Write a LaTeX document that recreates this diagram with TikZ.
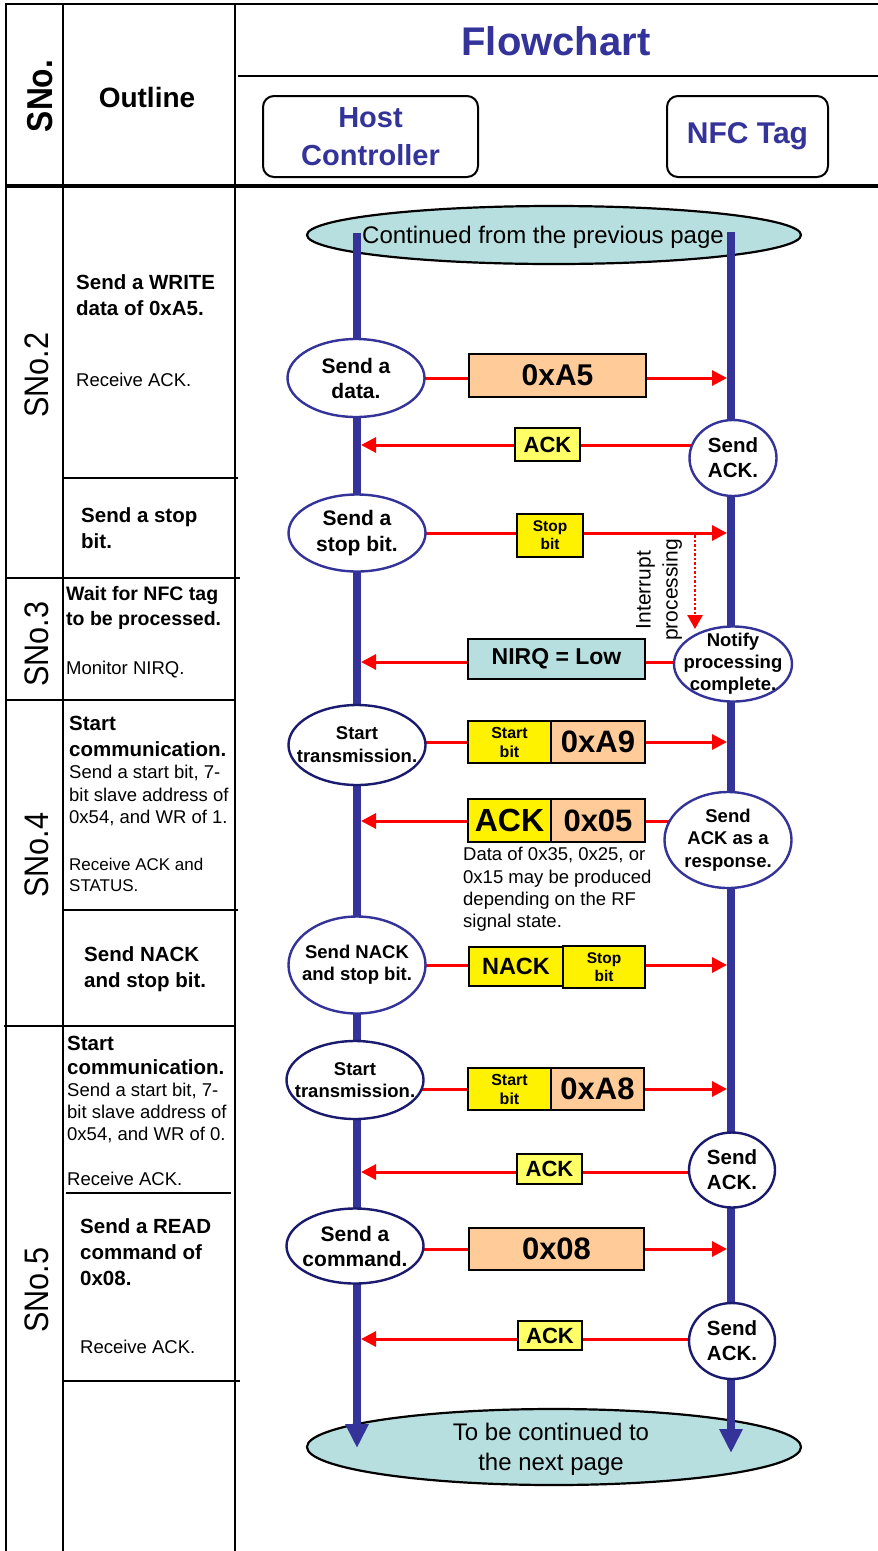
\documentclass[tikz,border=0pt]{standalone}
\usepackage{fontspec}
\setmainfont{Liberation Sans}
\usetikzlibrary{shapes.geometric,arrows.meta}
\definecolor{lifeblue}{HTML}{333399}
\definecolor{navyedge}{HTML}{1A1A6E}
\definecolor{peach}{HTML}{FFCC99}
\definecolor{paleyellow}{HTML}{FFFF66}
\definecolor{cyanfill}{HTML}{B8DFE0}
\newcommand\fsz[2]{\fontsize{#1}{#2}\selectfont}
\pgfdeclarelayer{bottom}
\pgfdeclarelayer{back}
\pgfsetlayers{bottom,back,main}

\begin{document}
\begin{tikzpicture}[x=1pt,y=-1pt,
  grid/.style={line width=2.8pt, black},
  % negative inner sep keeps the ellipse at its given size whatever the text
  ell/.style={ellipse, draw=lifeblue, line width=2.4pt, fill=white, inner sep=-22pt, align=center},
  navyell/.style={ell, draw=navyedge},
  bigtxt/.style={font={\fsz{21}{25}\bfseries}},
  smalltxt/.style={font={\fsz{18.5}{22.5}\bfseries}},
  pkt/.style={draw=black, line width=2pt, inner sep=0pt, align=center},
  pktpeach/.style={pkt, fill=peach, font={\fsz{31}{36}\bfseries}},
  pktack/.style={pkt, fill=paleyellow, font={\fsz{22}{26}\bfseries}},
  pktbit/.style={pkt, fill=yellow, font={\fsz{15.5}{18}\bfseries}},
  msg/.style={draw=red, line width=3pt, -{Triangle[length=15pt,width=15pt]}},
  life/.style={draw=lifeblue, line width=7.5pt, -{Triangle[length=24pt,width=22pt]}},
  cont/.style={ellipse, draw=black, line width=2.2pt, fill=cyanfill, inner sep=0pt},
  outl/.style={anchor=west, inner sep=0pt, align=left},
  outb/.style={outl, font={\fsz{20.5}{26}\bfseries}},
  outr/.style={outl, font={\fsz{18.5}{22.5}}},
  sno/.style={rotate=90, inner sep=0pt, font={\fsz{34}{40}}}
]
\useasboundingbox (0,0) rectangle (878,1551);
\begin{pgfonlayer}{bottom}
\fill[white] (0,0) rectangle (878,1551);
\end{pgfonlayer}

% ---- table frame ----
\draw[grid] (5,4) -- (878,4);
\draw[grid] (6,4) -- (6,1551);
\draw[grid] (63,4) -- (63,1551);
\draw[grid] (235,4) -- (235,1551);
\draw[grid] (238,76) -- (878,76);
\draw[grid, line width=3.4pt] (5,186) -- (878,186);
\draw[grid] (6,578) -- (240,578);
\draw[grid] (6,700) -- (235,700);
\draw[grid] (4,1026) -- (235,1026);
\draw[grid] (63,478) -- (238,478);
\draw[grid] (63,910) -- (238,910);
\draw[grid] (66,1193) -- (231,1193);
\draw[grid] (63,1381) -- (240,1381);

% ---- header ----
\node[font={\fsz{40}{48}\bfseries}, text=lifeblue] (title) at (556,41) {Flowchart};
\node[font={\fsz{28}{34}\bfseries}] (outline) at (147,97) {Outline};
\node[sno, font={\fsz{36}{40}\bfseries}] (snohead) at (40,96) {\scalebox{0.88}[1]{SNo.}};
\node[draw, rounded corners=11pt, line width=2pt, minimum width=215, minimum height=81,
      inner sep=0pt, align=center, text=lifeblue, font={\fsz{29}{38}\bfseries}] (host) at (370.5,136.5) {Host\\Controller};
\node[draw, rounded corners=11pt, line width=2pt, minimum width=161, minimum height=81,
      inner sep=0pt, text=lifeblue, font={\fsz{30}{36}\bfseries}] (tag) at (747.5,136.5) {NFC Tag};

% ---- section numbers ----
\node[sno] (sno2) at (37,375) {\scalebox{0.9}[1]{SNo.2}};
\node[sno] (sno3) at (37,644) {\scalebox{0.9}[1]{SNo.3}};
\node[sno] (sno4) at (37,855) {\scalebox{0.9}[1]{SNo.4}};
\node[sno] (sno5) at (37,1290) {\scalebox{0.9}[1]{SNo.5}};

% ---- outline texts ----
\node[outb] (t2a) at (76,295) {Send a WRITE\\data of 0xA5.};
\node[outr] (t2b) at (76,380) {Receive ACK.};
\node[outb] (t2c) at (81,528) {Send a stop\\bit.};
\node[outb, font={\fsz{19.5}{25}\bfseries}] (t3a) at (66,607.5) {Wait for NFC tag\\to be processed.};
\node[outr] (t3b) at (66,670) {Monitor NIRQ.};
\node[outb] (t4a) at (69,736) {Start\\communication.};
\node[outr] (t4b) at (69,795.5) {Send a start bit, 7-\\bit slave address of\\0x54, and WR of 1.};
\node[outr, font={\fsz{17}{21}}] (t4c) at (69,874.5) {Receive ACK and\\STATUS.};
\node[outb] (t4d) at (84,969) {Send NACK\\and stop bit.};
\node[outb, font={\fsz{20.5}{24}\bfseries}] (t5a) at (67,1055) {Start\\communication.};
\node[outr, font={\fsz{18.5}{22}}] (t5b) at (67,1113) {Send a start bit, 7-\\bit slave address of\\0x54, and WR of 0.};
\node[outr] (t5c) at (67,1179) {Receive ACK.};
\node[outb] (t5d) at (80,1252) {Send a READ\\command of\\0x08.};
\node[outr] (t5e) at (80,1347) {Receive ACK.};

% ---- continuation terminals ----
\begin{pgfonlayer}{bottom}
\node[cont, minimum width=494, minimum height=58] (topcont) at (554,235) {};
\node[cont, minimum width=494, minimum height=76] (botcont) at (554,1447) {};
\end{pgfonlayer}
\node[font={\fsz{24}{30}}, inner sep=0pt] (topconttxt) at (543,237) {Continued from the previous page};
\node[font={\fsz{24}{30}}, inner sep=0pt, align=center] (botconttxt) at (551,1449) {To be continued to\\the next page};

% ---- host controller steps ----
\node[ell, bigtxt, minimum width=137, minimum height=78] (sdata) at (356,378) {Send a\\data.};
\node[ell, bigtxt, font={\fsz{21}{26}\bfseries}, minimum width=137, minimum height=77] (sstop) at (357,533) {Send a\\stop bit.};
\node[navyell, smalltxt, font={\fsz{18.5}{23}\bfseries}, minimum width=137, minimum height=80] (stx1) at (357,745) {Start\\transmission.};
\node[ell, smalltxt, font={\fsz{18.5}{22}\bfseries}, minimum width=137, minimum height=97] (snack) at (357,965) {Send NACK\\and stop bit.};
\node[navyell, smalltxt, font={\fsz{18.5}{22}\bfseries}, minimum width=137, minimum height=78] (stx2) at (355,1080) {Start\\transmission.};
\node[navyell, bigtxt, minimum width=137, minimum height=75] (scmd) at (355,1246) {Send a\\command.};

% ---- NFC tag steps ----
\node[ell, font={\fsz{20.5}{25}\bfseries}, minimum width=87, minimum height=76] (ack1) at (733,458) {Send\\ACK.};
\node[ell, smalltxt, font={\fsz{18.5}{22}\bfseries}, minimum width=118, minimum height=75] (notify) at (733,664) {Notify\\processing\\complete.};
\node[ell, smalltxt, minimum width=127, minimum height=96] (resp) at (728,840) {Send\\ACK as a\\response.};
\node[navyell, font={\fsz{20.5}{25}\bfseries}, minimum width=86, minimum height=75] (ack2) at (732,1170) {Send\\ACK.};
\node[navyell, font={\fsz{20.5}{25}\bfseries}, minimum width=86, minimum height=76] (ack3) at (732,1341) {Send\\ACK.};

% ---- packets ----
\node[pktpeach, font={\fsz{30}{36}\bfseries}, minimum width=177, minimum height=43] (pA5) at (557.5,375.5) {0xA5};
\node[pktack, minimum width=65, minimum height=33] (pack1) at (547.5,444.5) {ACK};
\node[pktbit, minimum width=66, minimum height=43] (pstop1) at (550,535.5) {Stop\\bit};
\node[pkt, fill=cyanfill, font={\fsz{23}{28}\bfseries}, minimum width=177, minimum height=40] (pnirq) at (556.5,659) {NIRQ = Low};
\node[pktbit, font={\fsz{16}{19}\bfseries}, minimum width=83, minimum height=42] (pstart1) at (509.5,742) {Start\\bit};
\node[pktpeach, minimum width=94, minimum height=42] (pA9) at (598,742) {0xA9};
\node[pkt, fill=yellow, font={\fsz{32}{36}\bfseries}, minimum width=83, minimum height=43] (packbig) at (509.5,820.5) {ACK};
\node[pktpeach, minimum width=94, minimum height=43] (p05) at (598,820.5) {0x05};
\node[anchor=west, inner sep=0pt, align=left, font={\fsz{18.5}{22.3}}] (note) at (463,889.5)
  {Data of 0x35, 0x25, or\\0x15 may be produced\\depending on the RF\\signal state.};
\node[pkt, fill=yellow, font={\fsz{23.5}{28}\bfseries}, minimum width=94, minimum height=39] (pnack) at (516,966.5) {NACK};
\node[pktbit, minimum width=82, minimum height=42] (pstop2) at (604,967) {Stop\\bit};
\node[pktbit, font={\fsz{16}{19}\bfseries}, minimum width=83, minimum height=42] (pstart2) at (509.5,1089) {Start\\bit};
\node[pktpeach, minimum width=93, minimum height=42] (pA8) at (597.5,1089) {0xA8};
\node[pktack, minimum width=65, minimum height=30] (pack2) at (549.5,1169) {ACK};
\node[pktpeach, minimum width=175, minimum height=42] (p08) at (556.5,1249) {0x08};
\node[pktack, minimum width=64, minimum height=29] (pack3) at (550,1335.5) {ACK};

% ---- interrupt note ----
\node[rotate=90, inner sep=0pt, align=center, font={\fsz{21}{27}}] (intr) at (659,590) {Interrupt\\processing};

% ---- lifelines and message arrows ----
\coordinate (hosttop) at (357,233);
\coordinate (hostend) at (357,1448);
\coordinate (tagtop) at (731,232);
\coordinate (tagend) at (731,1453);
\coordinate (m1) at (727,378);
\coordinate (m2) at (361,445);
\coordinate (m3) at (727,533);
\coordinate (m4) at (361,662);
\coordinate (m5) at (727,742);
\coordinate (m6) at (361,821);
\coordinate (m7) at (727,965);
\coordinate (m8) at (727,1089);
\coordinate (m9) at (361,1172);
\coordinate (m10) at (727,1249);
\coordinate (m11) at (361,1339);
\coordinate (d0) at (695,535);
\coordinate (d1) at (695,629);

\begin{pgfonlayer}{back}
\draw[life] (hosttop) -- (hostend);
\draw[life] (tagtop) -- (tagend);
\draw[msg] (sdata.center |- m1) -- (m1);
\draw[msg] (ack1.center |- m2) -- (m2);
\draw[msg] (sstop.center |- m3) -- (m3);
\draw[msg] (notify.center |- m4) -- (m4);
\draw[msg] (stx1.center |- m5) -- (m5);
\draw[msg] (resp.center |- m6) -- (m6);
\draw[msg] (snack.center |- m7) -- (m7);
\draw[msg] (stx2.center |- m8) -- (m8);
\draw[msg] (ack2.center |- m9) -- (m9);
\draw[msg] (scmd.center |- m10) -- (m10);
\draw[msg] (ack3.center |- m11) -- (m11);
\draw[draw=red, line width=2.6pt, dash pattern=on 2.5pt off 2pt, -{Triangle[length=14pt,width=15pt]}] (d0) -- (d1);
\end{pgfonlayer}
\end{tikzpicture}
\end{document}
